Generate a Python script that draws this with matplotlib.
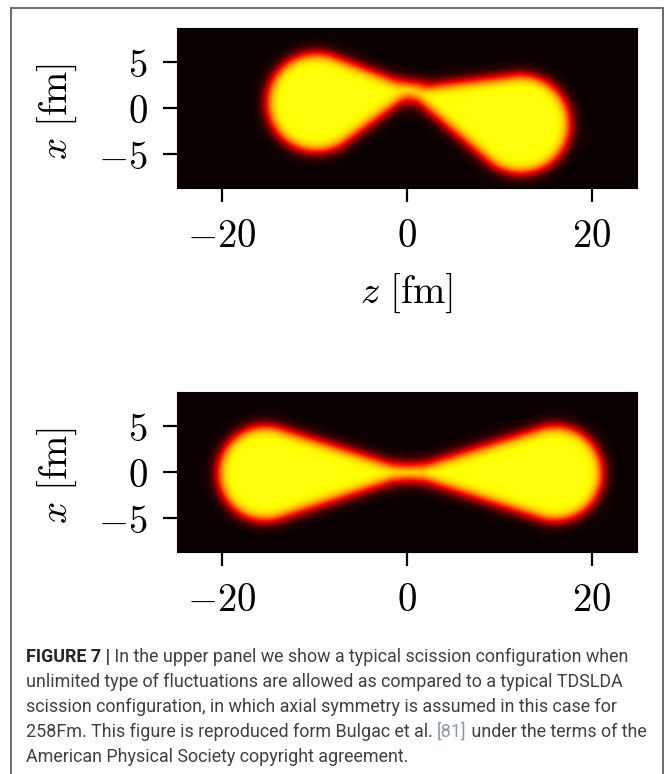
import numpy as np
import matplotlib
matplotlib.use("Agg")
import matplotlib.pyplot as plt
from matplotlib.lines import Line2D
from matplotlib import font_manager

# ---------------- data ----------------
Z_LIMITS = [-24.85, 24.85]          # fm
X_LIMITS = [-8.65, 8.65]            # fm
X_TICKS = [-20, 0, 20]
X_TICK_LABELS = [r"$-20$", r"$0$", r"$20$"]
Y_TICKS = [-5, 0, 5]
Y_TICK_LABELS = [r"$-5$", r"$0$", r"$5$"]

# upper panel: two fragments (pear shapes) joined at a neck
TOP_FRAG_Z = [-9.8, 12.3]
TOP_FRAG_X = [0.6, -1.75]
TOP_FRAG_R = [5.35, 5.35]
TOP_NECK_Z = [0.9, -0.1]     # narrow ends of left / right fragment
TOP_NECK_X = [2.05, 2.0]
TOP_NECK_R = [0.15, 0.15]

# lower panel: axially symmetric configuration
BOT_FRAG_Z = [-15.3, 16.0]
BOT_FRAG_X = [-0.15, -0.15]
BOT_FRAG_R = [5.15, 5.15]
BOT_NECK_Z = [0.9, -0.5]
BOT_NECK_X = [-0.05, -0.05]
BOT_NECK_R = [0.12, 0.12]

SURFACE_DIFFUSENESS = 0.38   # fm
NECK_SMOOTHING = 1.8         # fm

CAPTION_LINES = [
    [("FIGURE 7 |", "bold", "#262626"),
     (" In the upper panel we show a typical scission configuration when", "normal", "#404040")],
    [("unlimited type of fluctuations are allowed as compared to a typical TDSLDA", "normal", "#404040")],
    [("scission configuration, in which axial symmetry is assumed in this case for", "normal", "#404040")],
    [("258Fm. This figure is reproduced form Bulgac et al. ", "normal", "#404040"),
     ("[81]", "normal", "#8c98a4"),
     (" under the terms of the", "normal", "#404040")],
    [("American Physical Society copyright agreement.", "normal", "#404040")],
]

# ---------------- helpers ----------------
def round_cone_sdf(Z, X, c1, r1, c2, r2):
    dz, dx = c2[0] - c1[0], c2[1] - c1[1]
    h = np.hypot(dz, dx)
    uz, ux = dz / h, dx / h
    pz, px = Z - c1[0], X - c1[1]
    along = pz * uz + px * ux
    perp = np.abs(-pz * ux + px * uz)
    b = (r1 - r2) / h
    a = np.sqrt(1 - b * b)
    k = -b * perp + a * along
    d = np.where(k < 0, np.hypot(perp, along) - r1,
                 np.where(k > a * h, np.hypot(perp, along - h) - r2,
                          a * perp + b * along - r1))
    return d


def smin(d1, d2, k):
    h = np.clip(0.5 + 0.5 * (d2 - d1) / k, 0, 1)
    return d2 * (1 - h) + d1 * h - k * h * (1 - h)


def density(Z, X, fz, fx, fr, nz, nx, nr):
    d1 = round_cone_sdf(Z, X, (fz[0], fx[0]), fr[0], (nz[0], nx[0]), nr[0])
    d2 = round_cone_sdf(Z, X, (fz[1], fx[1]), fr[1], (nz[1], nx[1]), nr[1])
    d = smin(d1, d2, NECK_SMOOTHING)
    return 1.0 / (1.0 + np.exp(d / SURFACE_DIFFUSENESS))


zg = np.linspace(Z_LIMITS[0], Z_LIMITS[1], 600)
xg = np.linspace(X_LIMITS[0], X_LIMITS[1], 220)
ZZ, XX = np.meshgrid(zg, xg)
rho_top = density(ZZ, XX, TOP_FRAG_Z, TOP_FRAG_X, TOP_FRAG_R, TOP_NECK_Z, TOP_NECK_X, TOP_NECK_R)
rho_bot = density(ZZ, XX, BOT_FRAG_Z, BOT_FRAG_X, BOT_FRAG_R, BOT_NECK_Z, BOT_NECK_X, BOT_NECK_R)

# ---------------- figure ----------------
plt.rcParams["mathtext.fontset"] = "cm"
W, H = 666, 774
fig = plt.figure(figsize=(W / 100, H / 100), dpi=100)
fig.patch.set_facecolor("white")


def px_axes(left, top, right, bottom):
    return fig.add_axes([left / W, 1 - bottom / H, (right - left) / W, (bottom - top) / H])


def style_axes(ax, rho, xlabel):
    ax.imshow(rho, origin="lower", extent=[Z_LIMITS[0], Z_LIMITS[1], X_LIMITS[0], X_LIMITS[1]],
              cmap="hot", vmin=0, vmax=1.0 / 0.76, aspect="auto", interpolation="bilinear")
    ax.set_xlim(Z_LIMITS)
    ax.set_ylim(X_LIMITS)
    ax.set_xticks(X_TICKS)
    ax.set_xticklabels(X_TICK_LABELS)
    ax.set_yticks(Y_TICKS)
    ax.set_yticklabels(Y_TICK_LABELS)
    ax.tick_params(direction="out", length=10, width=1.6, labelsize=28, pad=11,
                   top=False, right=False, color="black")
    for s in ax.spines.values():
        s.set_linewidth(0.8)
    ax.set_ylabel(r"$x\ [\mathrm{fm}]$", fontsize=28)
    ax.yaxis.set_label_coords((79 - 177) / 460, 0.48)
    if xlabel:
        ax.set_xlabel(r"$z\ [\mathrm{fm}]$", fontsize=28)
        ax.xaxis.set_label_coords(0.498, (188 - 272) / 160)


ax1 = px_axes(177, 28, 637, 188)
style_axes(ax1, rho_top, True)
ax2 = px_axes(177, 392, 637, 552)
style_axes(ax2, rho_bot, False)

# frame around the figure
frame_kw = dict(color="#6a6a6a", linewidth=1.4, transform=fig.transFigure)
fig.add_artist(Line2D([11 / W, 11 / W], [0, 1 - 8 / H], **frame_kw))
fig.add_artist(Line2D([11 / W, 663 / W], [1 - 8 / H, 1 - 8 / H], **frame_kw))
fig.add_artist(Line2D([663 / W, 663 / W], [0, 1 - 8 / H], **frame_kw))

# ---------------- caption ----------------
names = {f.name for f in font_manager.fontManager.ttflist}
cap_font = "Roboto" if "Roboto" in names else "Liberation Sans"
renderer = fig.canvas.get_renderer()


def seg_width(txt, weight, size):
    t = fig.text(0, 0, txt, fontsize=size, fontweight=weight, family=cap_font)
    w = t.get_window_extent(renderer=renderer).width
    t.remove()
    return w

# fit the widest caption line to the text width in the reference
target = 644 - 26
base = 12.0
wmax = max(sum(seg_width(s, wgt, base) for s, wgt, _ in line) for line in CAPTION_LINES)
cap_size = base * target / wmax

x0 = 26
for i, line in enumerate(CAPTION_LINES):
    y = 661.7 + 25.0 * i
    x = x0
    for s, wgt, col in line:
        fig.text(x / W, 1 - y / H, s, fontsize=cap_size, fontweight=wgt, family=cap_font,
                 color=col, va="baseline", ha="left")
        x += seg_width(s, wgt, cap_size)

fig.savefig("out.png", dpi=100)
